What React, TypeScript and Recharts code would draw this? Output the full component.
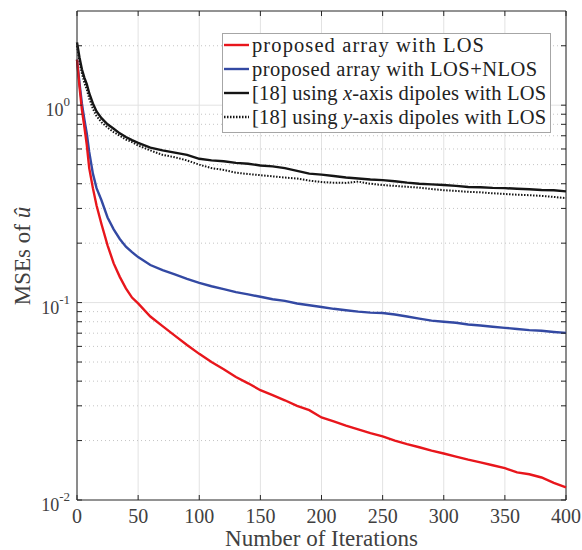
import React from "react";
import {
  LineChart,
  Line,
  XAxis,
  YAxis,
  CartesianGrid,
  ReferenceLine,
} from "recharts";

if (typeof document !== "undefined") document.body.style.margin = "0";

const iterations = [
  0, 2, 4, 6, 8, 10, 13, 16, 20, 25, 30, 35, 40, 45, 50, 60, 70, 80, 90, 100,
  110, 120, 130, 140, 150, 160, 170, 180, 190, 200, 210, 220, 230, 240, 250,
  260, 270, 280, 290, 300, 310, 320, 330, 340, 350, 360, 370, 380, 390, 400,
];

const losMse = [
  1.7, 1.25, 0.95, 0.78, 0.63, 0.48, 0.38, 0.31, 0.25, 0.195, 0.158, 0.135,
  0.118, 0.106, 0.099, 0.085, 0.076, 0.068, 0.061, 0.055, 0.05, 0.046, 0.042,
  0.039, 0.036, 0.034, 0.032, 0.03, 0.0285, 0.0262, 0.025, 0.0238, 0.0228,
  0.0218, 0.021, 0.02, 0.0192, 0.0185, 0.0178, 0.0172, 0.0166, 0.016, 0.0155,
  0.015, 0.0145, 0.0138, 0.0135, 0.013, 0.0122, 0.0116,
];

const nlosMse = [
  1.7, 1.3, 1.02, 0.85, 0.72, 0.58, 0.45, 0.38, 0.33, 0.27, 0.235, 0.21, 0.192,
  0.18, 0.17, 0.155, 0.146, 0.139, 0.132, 0.126, 0.121, 0.117, 0.113, 0.11,
  0.107, 0.104, 0.102, 0.099, 0.097, 0.095, 0.093, 0.0915, 0.09, 0.089, 0.0885,
  0.087, 0.085, 0.083, 0.081, 0.08, 0.079, 0.0775, 0.0765, 0.0755, 0.0745,
  0.0735, 0.0725, 0.072, 0.071, 0.0702,
];

const xDipoleMse = [
  2.08, 1.75, 1.52, 1.38, 1.28, 1.15, 1.02, 0.93, 0.86, 0.8, 0.76, 0.72, 0.69,
  0.665, 0.645, 0.61, 0.59, 0.575, 0.56, 0.535, 0.525, 0.52, 0.51, 0.505, 0.495,
  0.49, 0.48, 0.465, 0.45, 0.445, 0.438, 0.43, 0.425, 0.42, 0.417, 0.412, 0.405,
  0.4, 0.397, 0.394, 0.39, 0.385, 0.384, 0.381, 0.38, 0.377, 0.375, 0.372,
  0.371, 0.366,
];

const yDipoleMse = [
  2.0, 1.65, 1.45, 1.3, 1.2, 1.08, 0.96, 0.88, 0.82, 0.77, 0.73, 0.7, 0.67,
  0.65, 0.625, 0.59, 0.56, 0.545, 0.525, 0.5, 0.48, 0.47, 0.455, 0.448, 0.442,
  0.436, 0.43, 0.425, 0.415, 0.408, 0.405, 0.404, 0.41, 0.4, 0.394, 0.39, 0.386,
  0.382, 0.376, 0.371, 0.368, 0.364, 0.362, 0.358, 0.355, 0.352, 0.35, 0.347,
  0.343, 0.338,
];

const xTicks = [0, 50, 100, 150, 200, 250, 300, 350, 400];
const yTicks = [
  0.01, 0.02, 0.03, 0.04, 0.05, 0.06, 0.07, 0.08, 0.09, 0.1, 0.2, 0.3, 0.4,
  0.5, 0.6, 0.7, 0.8, 0.9, 1, 2,
];
const yMajor = [0.1, 1];
const yMinor = [
  0.02, 0.03, 0.04, 0.05, 0.06, 0.07, 0.08, 0.09, 0.2, 0.3, 0.4, 0.5, 0.6, 0.7,
  0.8, 0.9, 2,
];

const rows = iterations.map((it, i) => ({
  iter: it,
  los: losMse[i],
  nlos: nlosMse[i],
  xdip: xDipoleMse[i],
  ydip: yDipoleMse[i],
}));

const PLOT_LEFT = 77;
const PLOT_RIGHT = 566;
const PLOT_TOP = 11;
const PLOT_BOTTOM = 500;
const AXIS = "#262626";
const TEXT = "#404040";
const FONT = "'Liberation Serif', 'Times New Roman', serif";

const RED = "#e8161c";
const BLUE = "#3349a3";
const BLACK = "#151515";

function YTick(props: any) {
  const { y, payload } = props;
  const lg = Math.log10(payload.value);
  const exp = Math.round(lg);
  const major = Math.abs(lg - exp) < 1e-6;
  return (
    <g>
      <line x1={PLOT_LEFT} x2={PLOT_LEFT + 5} y1={y} y2={y} stroke={AXIS} />
      <line x1={PLOT_RIGHT} x2={PLOT_RIGHT - 5} y1={y} y2={y} stroke={AXIS} />
      {major && (
        <text
          x={70}
          y={y + 11}
          textAnchor="end"
          fontFamily={FONT}
          fontSize={18}
          fill={TEXT}
        >
          10
          <tspan dy={-10} fontSize={13}>
            {exp}
          </tspan>
        </text>
      )}
    </g>
  );
}

function XTick(props: any) {
  const { x, payload } = props;
  return (
    <g>
      <line x1={x} x2={x} y1={PLOT_BOTTOM} y2={PLOT_BOTTOM - 5} stroke={AXIS} />
      <line x1={x} x2={x} y1={PLOT_TOP} y2={PLOT_TOP + 5} stroke={AXIS} />
      <text
        x={x}
        y={523}
        textAnchor="middle"
        fontFamily={FONT}
        fontSize={20}
        fill={TEXT}
      >
        {payload.value}
      </text>
    </g>
  );
}

function XTitle() {
  return (
    <text
      x={(PLOT_LEFT + PLOT_RIGHT) / 2}
      y={546}
      textAnchor="middle"
      fontFamily={FONT}
      fontSize={23}
      fill={TEXT}
    >
      Number of Iterations
    </text>
  );
}

function YTitle() {
  return (
    <text
      x={0}
      y={0}
      transform="translate(30, 256) rotate(-90)"
      textAnchor="middle"
      fontFamily={FONT}
      fontSize={23}
      fill={TEXT}
    >
      MSEs of <tspan fontStyle="italic">û</tspan>
    </text>
  );
}

// letter spacing per row so the text widths follow the reference
const legendItems = [
  { color: RED, dash: undefined, spacing: 1.1, parts: ["proposed array with LOS"] },
  { color: BLUE, dash: undefined, spacing: 0.45, parts: ["proposed array with LOS+NLOS"] },
  { color: BLACK, dash: undefined, spacing: 0.2, parts: ["[18] using ", "x", "-axis dipoles with LOS"] },
  { color: BLACK, dash: "1.5 1.5", spacing: 0.2, parts: ["[18] using ", "y", "-axis dipoles with LOS"] },
];

function ChartLegend() {
  return (
    <svg
      width={330}
      height={100}
      style={{ position: "absolute", left: 222, top: 33 }}
    >
      <rect x={0.5} y={0.5} width={328} height={99} fill="#fff" stroke="#a6a6a6" />
      {legendItems.map((item, i) => {
        const cy = 12 + i * 24;
        return (
          <g key={i}>
            <line
              x1={2}
              x2={27}
              y1={cy}
              y2={cy}
              stroke={item.color}
              strokeWidth={2.4}
              strokeDasharray={item.dash}
            />
            <text
              x={30}
              y={cy + 6.5}
              fontFamily={FONT}
              fontSize={20.5}
              fill="#222"
              letterSpacing={item.spacing}
            >
              {item.parts.map((p, j) => (
                <tspan key={j} fontStyle={j === 1 ? "italic" : "normal"}>
                  {p}
                </tspan>
              ))}
            </text>
          </g>
        );
      })}
    </svg>
  );
}

export default function App() {
  return (
    <div style={{ position: "relative", width: 582, height: 550, background: "#fff" }}>
      <LineChart
        width={582}
        height={550}
        data={rows}
        margin={{ top: PLOT_TOP, right: 582 - PLOT_RIGHT, bottom: 0, left: 0 }}
      >
        <CartesianGrid horizontal={false} stroke="#e2e2e2" />
        {yMajor.map((v) => (
          <ReferenceLine key={`M${v}`} y={v} stroke="#e2e2e2" />
        ))}
        {yMinor.map((v) => (
          <ReferenceLine key={`m${v}`} y={v} stroke="#c4c4c4" strokeDasharray="1 3" />
        ))}
        <ReferenceLine y={3} stroke={AXIS} />
        <ReferenceLine x={400} stroke={AXIS} />
        <XAxis
          dataKey="iter"
          type="number"
          domain={[0, 400]}
          ticks={xTicks}
          interval={0}
          tick={<XTick />}
          tickLine={false}
          axisLine={{ stroke: AXIS }}
          height={50}
          label={<XTitle />}
        />
        <YAxis
          type="number"
          scale="log"
          domain={[0.01, 3]}
          allowDataOverflow
          ticks={yTicks}
          interval={0}
          tick={<YTick />}
          tickLine={false}
          axisLine={{ stroke: AXIS }}
          width={PLOT_LEFT}
          label={<YTitle />}
        />
        <Line
          dataKey="ydip"
          stroke={BLACK}
          strokeWidth={2}
          strokeDasharray="1.5 1.5"
          dot={false}
          isAnimationActive={false}
        />
        <Line
          dataKey="xdip"
          stroke={BLACK}
          strokeWidth={2.4}
          dot={false}
          isAnimationActive={false}
        />
        <Line
          dataKey="nlos"
          stroke={BLUE}
          strokeWidth={2.4}
          dot={false}
          isAnimationActive={false}
        />
        <Line
          dataKey="los"
          stroke={RED}
          strokeWidth={2.4}
          dot={false}
          isAnimationActive={false}
        />
      </LineChart>
      <ChartLegend />
    </div>
  );
}
